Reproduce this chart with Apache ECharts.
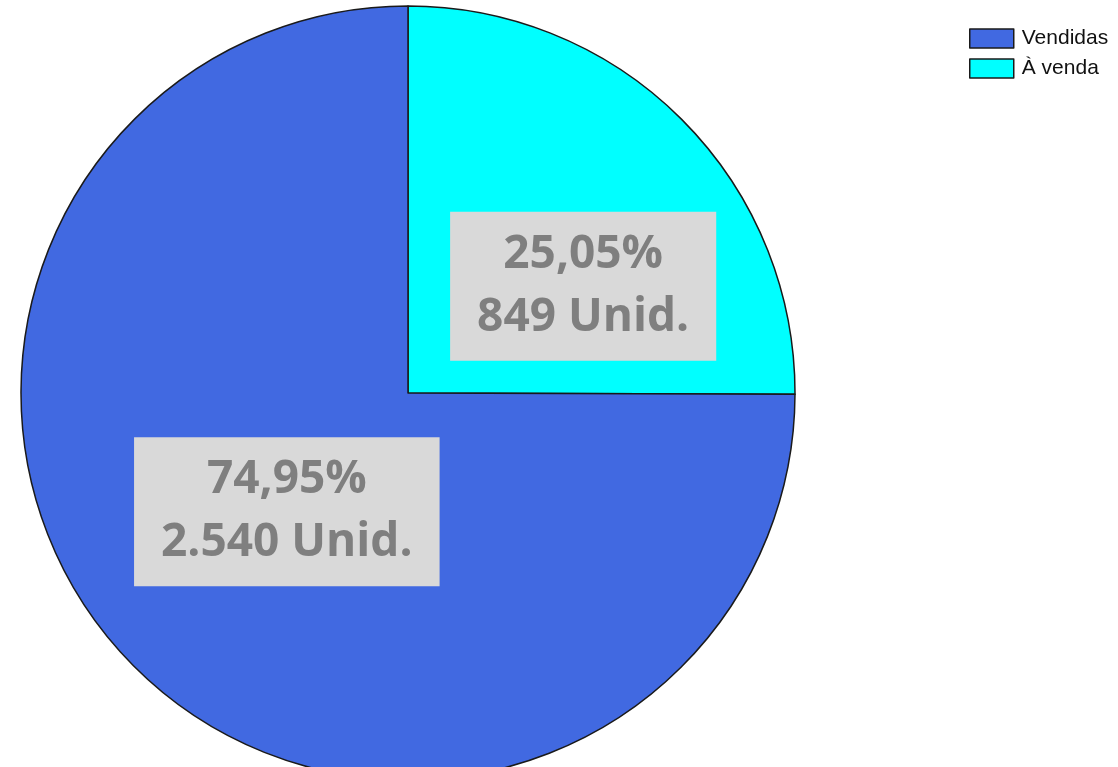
<!DOCTYPE html>
<html>
<head>
<meta charset="utf-8">
<script src="https://cdn.jsdelivr.net/npm/echarts@6/dist/echarts.min.js"></script>
<style>
  html, body { margin: 0; padding: 0; background: #fff; }
  #chart { width: 1118px; height: 767px; }
</style>
</head>
<body>
<div id="chart"></div>
<script>
// data (pie order: starts at 12 o'clock, clockwise)
var categories = ['À venda', 'Vendidas'];
var values = [849, 2540];
var colors = ['#00FFFF', '#4169E1'];
var legendOrder = ['Vendidas', 'À venda'];
// label nudges away from the default inside position
var labelOffsets = [[36, 32], [18, -20]];

var total = values.reduce(function (a, b) { return a + b; }, 0);

function fmtThousands(n) {
  return String(n).replace(/\B(?=(\d{3})+(?!\d))/g, '.');
}

var chart = echarts.init(document.getElementById('chart'));

var option = {
  animation: false,
  legend: {
    data: legendOrder,
    orient: 'vertical',
    left: 969,
    top: 28,
    padding: 0,
    itemWidth: 44,
    itemHeight: 19,
    itemGap: 9,
    icon: 'rect',
    itemStyle: { borderColor: '#1a1a1a', borderWidth: 1.5 },
    textStyle: { fontFamily: 'Liberation Sans', fontSize: 21, color: '#111', padding: [0, 0, 0, 3] }
  },
  series: [{
    type: 'pie',
    center: [408, 393],
    radius: 387,
    startAngle: 90,
    clockwise: true,
    emphasis: { disabled: true },
    itemStyle: { borderColor: '#1a1a1a', borderWidth: 1.5 },
    label: {
      position: 'inside',
      formatter: function (p) {
        var pct = (p.value / total * 100).toFixed(2).replace('.', ',');
        return pct + '%\n' + fmtThousands(p.value) + ' Unid.';
      },
      fontFamily: 'Open Sans',
      fontWeight: 'bold',
      fontSize: 46,
      lineHeight: 63,
      color: '#7f7f7f',
      backgroundColor: '#d9d9d9',
      padding: [12, 27, 11, 27]
    },
    labelLine: { show: false },
    data: categories.map(function (c, i) {
      return {
        name: c,
        value: values[i],
        itemStyle: { color: colors[i] },
        label: { offset: labelOffsets[i] }
      };
    })
  }]
};

chart.setOption(option);
</script>
</body>
</html>
